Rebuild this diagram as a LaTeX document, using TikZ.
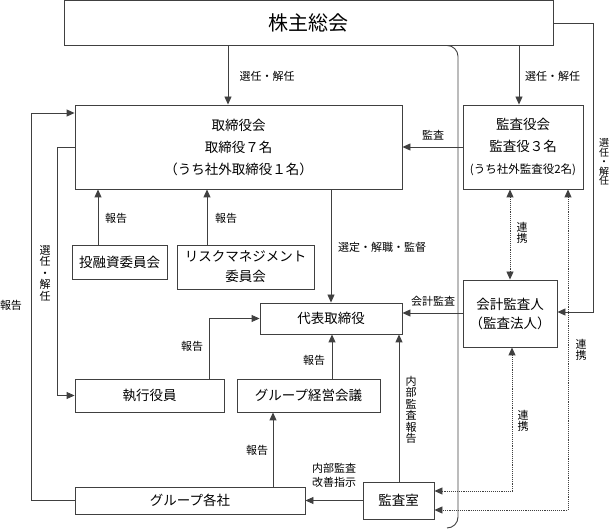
\documentclass[tikz,border=0pt]{standalone}
\usepackage{fontspec}
\setmainfont{Noto Sans CJK JP}
\usetikzlibrary{arrows.meta}

\tikzset{
  box/.style={draw=black!75, line width=0.9pt, inner sep=0pt, align=center,
    font=\fontsize{13.5}{22}\selectfont},
  lbl/.style={inner sep=0pt, align=center, font=\fontsize{11}{12}\selectfont},
  vlbl/.style={lbl, font=\fontsize{11}{11.5}\selectfont},
  arr/.style={draw=black!75, line width=0.9pt, -{Triangle[length=8pt,width=7pt]}},
  dotarr/.style={arr, densely dotted, {Triangle[length=8pt,width=7pt]}-{Triangle[length=8pt,width=7pt]}}
}

\begin{document}
\begin{tikzpicture}[x=1pt,y=-1pt]
\useasboundingbox (0,0) rectangle (611,529);
% boxes
\node [box, minimum width=489pt, minimum height=45pt, font=\fontsize{20}{24}\selectfont] (soukai) at (308.5,22.5) {株主総会};
\node [box, minimum width=327pt, minimum height=84pt] (torishimari) at (238.5,147) {取締役会\\取締役７名\\（うち社外取締役１名）};
\node [box, minimum width=120pt, minimum height=84pt] (kansayaku) at (523,147) {監査役会\\監査役３名\\{\fontsize{11.5}{22}\selectfont (うち社外監査役2名)}};
\node [box, minimum width=95pt, minimum height=34pt] (toyushi) at (119.5,262) {投融資委員会};
\node [box, minimum width=137pt, minimum height=44pt, font=\fontsize{13.5}{20}\selectfont] (risk) at (245.5,267) {リスクマネジメント\\委員会};
\node [box, minimum width=142pt, minimum height=31pt] (daihyo) at (331,318.5) {代表取締役};
\node [box, minimum width=94pt, minimum height=67pt, font=\fontsize{13.5}{19}\selectfont] (kaikei) at (510,313.5) {会計監査人\\（監査法人）};
\node [box, minimum width=149pt, minimum height=33pt] (shikko) at (149.5,395.5) {執行役員};
\node [box, minimum width=143pt, minimum height=33pt] (gkeiei) at (308.5,395.5) {グループ経営会議};
\node [box, minimum width=230pt, minimum height=27pt] (gkaku) at (190,500.5) {グループ各社};
\node [box, minimum width=71pt, minimum height=37pt] (kansashitsu) at (398.5,500.5) {監査室};

% connectors
\draw [arr] (228,0 |- soukai.south) -- (228,0 |- torishimari.north);
\draw [arr] (519,0 |- soukai.south) -- (519,0 |- kansayaku.north);
\draw [arr] (soukai.east |- 0,23) -| (593,312) -- (kaikei.east |- 0,312);
\draw [arr] (kansayaku.west) -- (torishimari.east);
\draw [arr] (gkaku.west) -| (31,113) -- (torishimari.west |- 0,113);
\draw [arr] (torishimari.west) -| (57,0 |- shikko.west) -- (shikko.west);
\draw [arr] (98,0 |- toyushi.north) -- (98,0 |- torishimari.south);
\draw [arr] (207,0 |- risk.north) -- (207,0 |- torishimari.south);
\draw [arr] (331,0 |- torishimari.south) -- (daihyo.north);
\draw [arr] (kaikei.west |- 0,313) -- (daihyo.east |- 0,313);
\draw [arr] (209,0 |- shikko.north) |- (daihyo.west);
\draw [arr] (332,0 |- gkeiei.north) -- (332,0 |- daihyo.south);
\draw [arr] (273,0 |- gkaku.north) -- (273,0 |- gkeiei.south);
\draw [arr] (kansashitsu.west) -- (gkaku.east);
\draw [arr] (399,0 |- kansashitsu.north) -- (399,0 |- daihyo.south);
\draw [dotarr] (510,0 |- kansayaku.south) -- (kaikei.north);
\draw [dotarr] (568,0 |- kansayaku.south) |- (kansashitsu.east |- 0,510);
\draw [dotarr] (512,0 |- kaikei.south) |- (kansashitsu.east |- 0,491);
\draw [draw=black!75, line width=0.9pt, rounded corners=11pt] (447,0 |- soukai.south) -| (458,528) -- (447,528);

% labels
\node [lbl] (l1) at (267,76) {選任・解任};
\node [lbl] (l2) at (552.5,76) {選任・解任};
\node [lbl] (l3) at (433,135) {監査};
\node [lbl] (l4) at (116,218) {報告};
\node [lbl] (l5) at (226,218) {報告};
\node [lbl] (l6) at (382,247) {選定・解職・監督};
\node [vlbl] (l7) at (522,233) {連\\携};
\node [vlbl, font=\fontsize{10}{9.5}\selectfont] (l8) at (604,162) {選\\任\\・\\解\\任};
\node [vlbl] (l9) at (45,273) {選\\任\\・\\解\\任};
\node [lbl] (l10) at (11,305) {報告};
\node [vlbl] (l11) at (581,350) {連\\携};
\node [lbl] (l12) at (433,301) {会計監査};
\node [lbl] (l13) at (192,346) {報告};
\node [lbl] (l14) at (314,360) {報告};
\node [vlbl] (l15) at (411,410) {内\\部\\監\\査\\報\\告};
\node [vlbl] (l16) at (523,421) {連\\携};
\node [lbl] (l17) at (257,450) {報告};
\node [lbl, font=\fontsize{11}{14}\selectfont] (l18) at (334,475) {内部監査\\改善指示};
\end{tikzpicture}
\end{document}
